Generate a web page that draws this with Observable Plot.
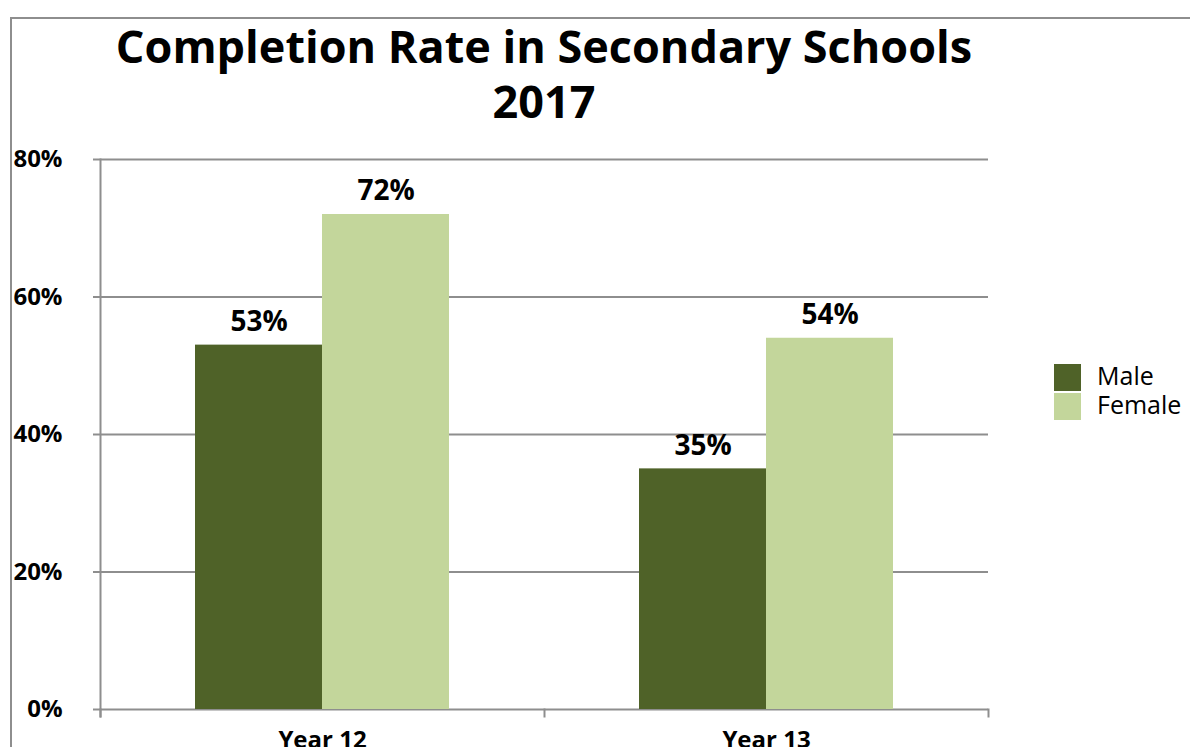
<!DOCTYPE html>
<html><head><meta charset="utf-8">
<script src="https://cdn.jsdelivr.net/npm/d3@7"></script>
<script src="https://cdn.jsdelivr.net/npm/@observablehq/plot@0.6"></script>
<style>
html,body{margin:0;padding:0;background:#fff;}
body{width:1190px;height:747px;overflow:hidden;position:relative;font-family:"Open Sans",sans-serif;}
#border{position:absolute;left:10px;top:17px;width:1300px;height:900px;border:2px solid #8e8e8e;}
#title{position:absolute;left:100px;width:888px;top:18px;text-align:center;font-weight:bold;font-size:45px;line-height:55px;color:#000;}
#chart{position:absolute;left:0;top:0;}
#legend{position:absolute;left:1054px;top:363px;font-size:25px;color:#000;}
.item{display:flex;align-items:center;height:29px;line-height:29px;}
.sw{width:27px;height:27px;margin-right:16px;}
.lab{position:relative;top:-2px;line-height:25px;}
</style>
</head><body>
<div id="border"></div>
<div id="chart"></div>
<div id="title">Completion Rate in Secondary Schools<br>2017</div>
<div id="legend"></div>
<script>
const categories = ["Year 12", "Year 13"];
const genders = ["Male", "Female"];
const maleValues = [53, 35];
const femaleValues = [72, 54];
const yTicks = [0, 20, 40, 60, 80];
const colors = ["#4F6228", "#C3D69B"];

const data = [];
categories.forEach((c, i) => {
  data.push({category: c, gender: "Male", value: maleValues[i]});
  data.push({category: c, gender: "Female", value: femaleValues[i]});
});

const gray = "#8e8e8e";
const font = "'Open Sans', sans-serif";

const chart = Plot.plot({
  width: 1190,
  height: 747,
  marginTop: 159,
  marginBottom: 38,
  marginLeft: 100,
  marginRight: 202,
  style: {fontFamily: font, background: "transparent", overflow: "visible"},
  fx: {domain: categories, paddingInner: 0, paddingOuter: 0, label: null},
  x: {domain: genders, paddingInner: 0, paddingOuter: 0.748, axis: null},
  y: {domain: [0, 80], label: null},
  color: {domain: genders, range: colors},
  marks: [
    Plot.ruleY(yTicks, {y: d => d, stroke: gray, strokeWidth: 2}),
    Plot.barY(data, {fx: "category", x: "gender", y: "value", fill: "gender"}),
    Plot.frame({anchor: "left", stroke: gray, strokeWidth: 2, insetBottom: -7, facetAnchor: "left"}),
    Plot.frame({anchor: "left", stroke: gray, strokeWidth: 2, insetTop: 550, insetBottom: -7}),
    Plot.frame({anchor: "right", stroke: gray, strokeWidth: 2, insetTop: 550, insetBottom: -7, facetAnchor: "right"}),
    Plot.axisY({ticks: yTicks, tickFormat: d => d + "%", tickSize: 7, tickPadding: 31,
      stroke: gray, strokeWidth: 2, fill: "#000", fontSize: 24, fontWeight: "bold", label: null}),
    Plot.axisFx({anchor: "bottom", tickSize: 0, tickPadding: 21, fontSize: 24, fontWeight: "bold", fill: "#000", label: null}),
    Plot.text(data, {fx: "category", x: "gender", y: "value", text: d => d.value + "%",
      dy: -23, fontSize: 28, fontWeight: "bold", fill: "#000"})
  ]
});
document.getElementById("chart").appendChild(chart);

const legend = document.getElementById("legend");
genders.forEach((g, i) => {
  const item = document.createElement("div");
  item.className = "item";
  const sw = document.createElement("div");
  sw.className = "sw";
  sw.style.background = colors[i];
  const lab = document.createElement("span");
  lab.className = "lab";
  lab.textContent = g;
  item.appendChild(sw);
  item.appendChild(lab);
  legend.appendChild(item);
});
</script>
</body></html>
